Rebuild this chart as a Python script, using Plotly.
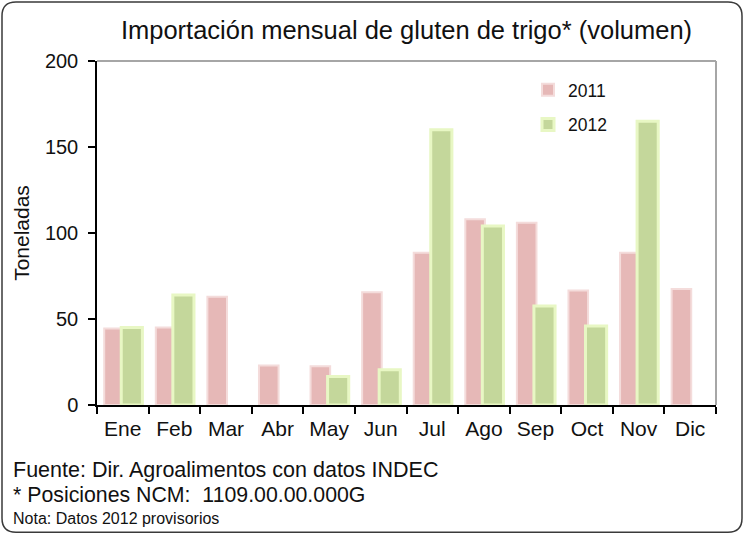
import plotly.graph_objects as go

# Monthly imports of wheat gluten, in tonnes
meses = ["Ene", "Feb", "Mar", "Abr", "May", "Jun", "Jul", "Ago", "Sep", "Oct", "Nov", "Dic"]
vol_2011 = [44.5, 45, 63, 23, 22.5, 65.5, 88.5, 108, 106, 66.5, 88.5, 67.5]
vol_2012 = [45, 64, None, None, 16.5, 20.5, 160, 104, 57.5, 46, 165, None]
y_ticks = [0, 50, 100, 150, 200]

FONT = "Liberation Sans, Arial, sans-serif"

fig = go.Figure()
fig.add_trace(go.Bar(
    x=meses, y=vol_2011, name="2011",
    offset=-0.36, width=0.38,
    marker=dict(color="#e6b8b7", line=dict(color="#f4dcdb", width=2)),
    legendgroup="a",
))
fig.add_trace(go.Bar(
    x=meses, y=vol_2012, name="2012",
    offset=-0.03, width=0.41,
    marker=dict(color="#c4d79b", line=dict(color="#e8f7c4", width=3)),
    legendgroup="b",
))

# Outer rounded frame, in paper coordinates of the plot area
L, R, T, B = 97, 716, 61, 405.5
W, H = R - L, B - T
def px(x):
    return (x - L) / W
def py(y):
    return (B - y) / H
x0, x1, y0, y1, r = 2, 742, 2, 533, 14
frame = (
    f"M {px(x0 + r)},{py(y0)} L {px(x1 - r)},{py(y0)} "
    f"Q {px(x1)},{py(y0)} {px(x1)},{py(y0 + r)} "
    f"L {px(x1)},{py(y1 - r)} Q {px(x1)},{py(y1)} {px(x1 - r)},{py(y1)} "
    f"L {px(x0 + r)},{py(y1)} Q {px(x0)},{py(y1)} {px(x0)},{py(y1 - r)} "
    f"L {px(x0)},{py(y0 + r)} Q {px(x0)},{py(y0)} {px(x0 + r)},{py(y0)} Z"
)

fig.update_layout(
    width=745, height=536,
    margin=dict(l=L, r=745 - R, t=T, b=536 - B),
    paper_bgcolor="white", plot_bgcolor="white",
    barmode="overlay",
    font=dict(family=FONT, color="#111111"),
    showlegend=True,
    legend=dict(
        x=px(528), y=py(72), xanchor="left", yanchor="top",
        font=dict(size=17.5, color="#111111"),
        bgcolor="rgba(0,0,0,0)", traceorder="grouped", tracegroupgap=9,
        itemwidth=30,
    ),
    title=dict(
        text="Importación mensual de gluten de trigo* (volumen)",
        x=0.5, xref="paper", xanchor="center",
        y=1 - 30 / 536, yanchor="middle",
        font=dict(size=25.5, family=FONT, color="#111111"),
    ),
    shapes=[
        dict(type="path", path=frame, xref="paper", yref="paper",
             line=dict(color="#3a3a3a", width=1.5), layer="below"),
    ],
    annotations=[
        dict(text="Fuente: Dir. Agroalimentos con datos INDEC", xref="paper", yref="paper",
             x=px(11), y=py(471), xanchor="left", yanchor="middle", showarrow=False,
             font=dict(size=21.5, color="#111111")),
        dict(text="* Posiciones NCM:  1109.00.00.000G", xref="paper", yref="paper",
             x=px(11), y=py(496), xanchor="left", yanchor="middle", showarrow=False,
             font=dict(size=21.3, color="#111111")),
        dict(text="Nota: Datos 2012 provisorios", xref="paper", yref="paper",
             x=px(11), y=py(519), xanchor="left", yanchor="middle", showarrow=False,
             font=dict(size=16, color="#111111")),
    ],
)

fig.update_xaxes(
    type="category", categoryorder="array", categoryarray=meses,
    range=[-0.5, 11.5],
    showline=True, linecolor="#000000", linewidth=1.5,
    mirror=False, showgrid=False, zeroline=False,
    ticks="outside", tickson="boundaries", ticklen=7, tickcolor="#000000", tickwidth=1.5,
    ticklabelstandoff=4,
    tickfont=dict(size=21, color="#111111"),
)
fig.update_yaxes(
    range=[0, 200], tickvals=y_ticks,
    showline=True, linecolor="#000000", linewidth=1.5,
    showgrid=False, zeroline=False,
    ticks="outside", ticklen=7, tickcolor="#000000", tickwidth=1.5,
    ticklabelstandoff=6,
    tickfont=dict(size=20, color="#111111"),
    title=dict(text="Toneladas", font=dict(size=21, color="#111111"), standoff=10),
)

# Light grey top and right edges of the plot area
fig.add_shape(type="line", xref="paper", yref="paper", x0=0, x1=1, y0=1, y1=1,
              line=dict(color="#a6a6a6", width=2))
fig.add_shape(type="line", xref="paper", yref="paper", x0=1, x1=1, y0=0, y1=1,
              line=dict(color="#a6a6a6", width=2))

fig.write_html("out.html")
